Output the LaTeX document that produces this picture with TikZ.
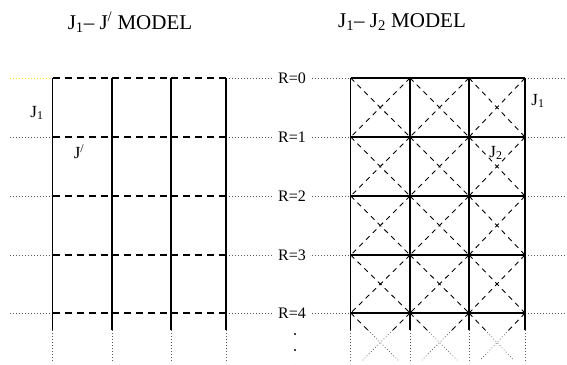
\documentclass[tikz,border=0pt]{standalone}
\usepackage{fontspec}
\setmainfont{Liberation Serif}
\usetikzlibrary{positioning, calc}

\begin{document}
\begin{tikzpicture}[x=1pt, y=-1pt,
    bond/.style={line width=1.2pt},
    rung/.style={line width=1.1pt, dash pattern=on 7pt off 5pt},
    diag/.style={line width=0.9pt, dash pattern=on 5pt off 4.5pt},
    guide/.style={line width=0.7pt, dash pattern=on 0.8pt off 2.2pt, gray!70!black},
    rowlabel/.style={font=\fontsize{16}{16}\selectfont, inner xsep=6pt, inner ysep=0pt},
    coupling/.style={font=\fontsize{17}{17}\selectfont, inner sep=0pt},
    title/.style={font=\fontsize{21}{21}\selectfont, inner sep=0pt},
    dot/.style={circle, fill, inner sep=0pt, minimum size=2.2pt},
  ]
    \useasboundingbox (0,0) rectangle (567,364);

    % Titles
    \node[title] (ltitle) at (130, 22) {J\textsubscript{1}– J\textsuperscript{/} MODEL};
    \node[title] (rtitle) at (402, 22) {J\textsubscript{1}– J\textsubscript{2} MODEL};

    % Lattice sites (l = left ladder, r = right lattice)
    \foreach \xl/\xr [count=\i from 0] in {52.7/350.7, 112/410, 171/469, 226/525} {
      \foreach \y [count=\r from 0] in {78, 137, 196, 255, 313, 372} {
        \coordinate (l\i\r) at (\xl, \y);
        \coordinate (r\i\r) at (\xr, \y);
      }
      \coordinate (lend\i) at (\xl, 330);
      \coordinate (lbot\i) at (\xl, 362);
      \coordinate (rend\i) at (\xr, 330);
      \coordinate (rbot\i) at (\xr, 362);
    }

    % Row labels and guide lines
    \foreach \y/\c [count=\r from 0] in {78/yellow!85!orange, 137/gray!70!black, 196/gray!70!black, 255/gray!70!black, 313/gray!70!black} {
      \node[rowlabel] (row\r) at (292, \y) {R=\r};
      \coordinate (ledge\r) at (10, \y);
      \coordinate (redge\r) at (567, \y);
      \draw[guide, \c] (ledge\r) -- (l0\r);
      \draw[guide] (l3\r) -- (row\r);
      \draw[guide] (row\r) -- (r0\r);
      \draw[guide] (r3\r) -- (redge\r);
    }
    \node[dot] (vdot1) at (295, 334) {};
    \node[dot] (vdot2) at (295, 350) {};
    \node[dot] (vdot3) at (295, 366) {};

    % Legs (solid) with open ends
    \foreach \i in {0,...,3} {
      \draw[bond] (l\i0) -- (lend\i);
      \draw[guide] (lend\i) -- (lbot\i);
      \draw[bond] (r\i0) -- (rend\i);
      \draw[guide] (rend\i) -- (rbot\i);
    }

    % Rungs and diagonals
    \foreach \i/\j in {0/1, 1/2, 2/3} {
      \foreach \r/\s in {0/1, 1/2, 2/3, 3/4} {
        \draw[rung] (l\i\r) -- (l\j\r);
        \draw[bond] (r\i\r) -- (r\j\r);
        \draw[diag] (r\i\r) -- (r\j\s);
        \draw[diag] (r\j\r) -- (r\i\s);
      }
      \draw[rung] (l\i4) -- (l\j4);
      \draw[bond] (r\i4) -- (r\j4);
      \draw[diag] (r\i4) -- ($(r\i4)!0.29!(r\j5)$);
      \draw[guide] ($(r\i4)!0.29!(r\j5)$) -- ($(r\i4)!0.8!(r\j5)$);
      \draw[diag] (r\j4) -- ($(r\j4)!0.29!(r\i5)$);
      \draw[guide] ($(r\j4)!0.29!(r\i5)$) -- ($(r\j4)!0.8!(r\i5)$);
    }

    % Couplings
    \node[coupling] (jleg) at (37, 113) {J\textsubscript{1}};
    \node[coupling] (jrung) at (79, 152) {J\textsuperscript{/}};
    \node[coupling] (jnn) at (538, 101) {J\textsubscript{1}};
    \node[coupling] (jnnn) at (496, 153) {J\textsubscript{2}};

\end{tikzpicture}
\end{document}
